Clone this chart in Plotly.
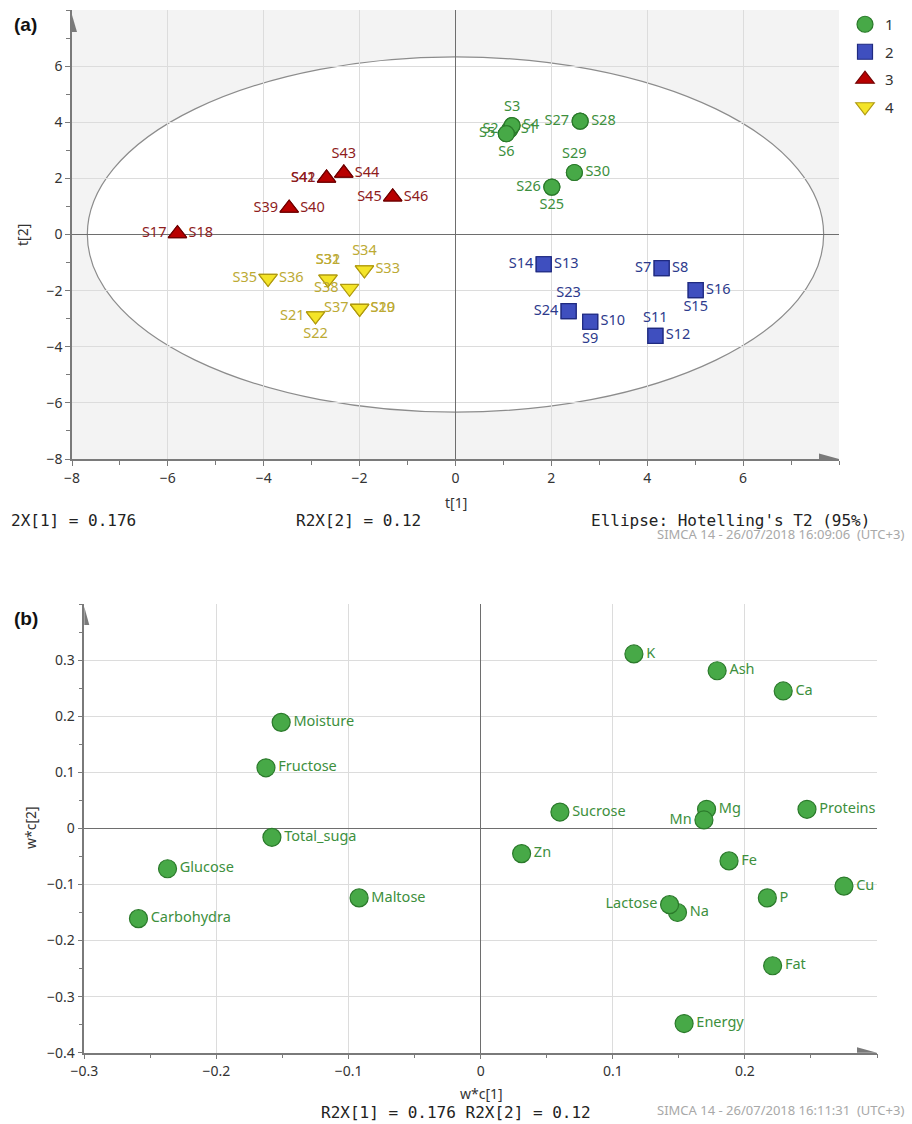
import plotly.graph_objects as go

W, H = 912, 1124

# ---------------- (a) score plot data ----------------
G1_NAMES = ["S1", "S2", "S3", "S4", "S5", "S6", "S25", "S26", "S27", "S28", "S29", "S30"]
G1_T1 = [1.13, 1.13, 1.18, 1.18, 1.06, 1.06, 2.01, 2.01, 2.60, 2.60, 2.48, 2.48]
G1_T2 = [3.74, 3.74, 3.88, 3.88, 3.59, 3.59, 1.69, 1.69, 4.04, 4.04, 2.21, 2.21]

G2_NAMES = ["S7", "S8", "S9", "S10", "S11", "S12", "S13", "S14", "S15", "S16", "S23", "S24"]
G2_T1 = [4.30, 4.30, 2.81, 2.81, 4.17, 4.17, 1.84, 1.84, 5.01, 5.01, 2.36, 2.36]
G2_T2 = [-1.20, -1.20, -3.11, -3.11, -3.61, -3.61, -1.06, -1.06, -1.98, -1.98, -2.73, -2.73]

G3_NAMES = ["S17", "S18", "S39", "S40", "S41", "S42", "S43", "S44", "S45", "S46"]
G3_T1 = [-5.80, -5.80, -3.47, -3.47, -2.69, -2.69, -2.33, -2.33, -1.31, -1.31]
G3_T2 = [0.03, 0.03, 0.94, 0.94, 2.01, 2.01, 2.19, 2.19, 1.34, 1.34]

G4_NAMES = ["S19", "S20", "S21", "S22", "S31", "S32", "S33", "S34", "S35", "S36", "S37", "S38"]
G4_T1 = [-2.00, -2.00, -2.92, -2.92, -2.66, -2.66, -1.90, -1.90, -3.91, -3.91, -2.00, -2.21]
G4_T2 = [-2.63, -2.63, -2.90, -2.90, -1.59, -1.59, -1.26, -1.26, -1.56, -1.56, -2.63, -1.92]

GROUP_LABELS = ["1", "2", "3", "4"]

# Hotelling's T2 (95%) ellipse semi-axes
ELLIPSE_T1 = 7.68
ELLIPSE_T2 = 6.33

# ---------------- (b) loading plot data ----------------
VAR_NAMES = ["Moisture", "Fructose", "Total_suga", "Glucose", "Carbohydra", "Maltose",
             "K", "Ash", "Ca", "Sucrose", "Mg", "Mn", "Proteins", "Zn", "Fe", "Cu",
             "P", "Na", "Lactose", "Fat", "Energy"]
WC1 = [-0.151, -0.1625, -0.158, -0.237, -0.259, -0.092,
       0.116, 0.179, 0.229, 0.060, 0.171, 0.169, 0.247, 0.031, 0.188, 0.275,
       0.217, 0.149, 0.143, 0.221, 0.154]
WC2 = [0.189, 0.108, -0.016, -0.072, -0.161, -0.124,
       0.311, 0.281, 0.245, 0.029, 0.034, 0.015, 0.034, -0.045, -0.058, -0.103,
       -0.124, -0.150, -0.136, -0.245, -0.348]

# ---------------- styles ----------------
G1_POS = ["middle right", "middle left", "top center", "middle right", "middle left", "bottom center",
          "bottom center", "middle left", "middle left", "middle right", "top center", "middle right"]
G2_POS = ["middle left", "middle right", "bottom center", "middle right", "top center", "middle right",
          "middle right", "middle left", "bottom center", "middle right", "top center", "middle left"]
G3_POS = ["middle left", "middle right", "middle left", "middle right", "middle left", "middle left",
          "top center", "middle right", "middle left", "middle right"]
G4_POS = ["middle right", "middle right", "middle left", "bottom center", "top center", "top center",
          "middle right", "top center", "middle left", "middle right", "middle left", "middle left"]
VAR_POS = ["middle right"] * len(VAR_NAMES)
VAR_POS[VAR_NAMES.index("Mn")] = "middle left"
VAR_POS[VAR_NAMES.index("Lactose")] = "middle left"

SANS = "Noto Sans"
MONO = "DejaVu Sans Mono"
AXC = "#7a7a7a"
GRID = "#dcdcdc"
ZERO = "#6e6e6e"

groups = [
    (G1_NAMES, G1_T1, G1_T2, G1_POS, "circle", 16, "#47a947", "#2b7a2b", "#3d8f3d"),
    (G2_NAMES, G2_T1, G2_T2, G2_POS, "square", 15, "#3f4fbf", "#1f2a80", "#2d3a8c"),
    (G3_NAMES, G3_T1, G3_T2, G3_POS, "triangle-up", 16, "#b80000", "#700000", "#8e1c1c"),
    (G4_NAMES, G4_T1, G4_T2, G4_POS, "triangle-down", 16, "#f4e428", "#b09a10", "#bcaa34"),
]

fig = go.Figure()
for i, (names, t1, t2, pos, sym, sz, fill, edge, tcol) in enumerate(groups):
    fig.add_trace(go.Scatter(
        x=t1, y=t2, mode="markers+text", text=names, textposition=pos,
        name=GROUP_LABELS[i], legendgroup="g" + GROUP_LABELS[i],
        marker=dict(symbol=sym, size=sz, color=fill, line=dict(color=edge, width=1.2)),
        textfont=dict(family=SANS, size=14.5, color=tcol),
        xaxis="x", yaxis="y", cliponaxis=False,
    ))

fig.add_trace(go.Scatter(
    x=WC1, y=WC2, mode="markers+text", text=VAR_NAMES, textposition=VAR_POS,
    marker=dict(symbol="circle", size=18, color="#47a947", line=dict(color="#2b7a2b", width=1.2)),
    textfont=dict(family=SANS, size=14.5, color="#3d8f3d"),
    showlegend=False, xaxis="x2", yaxis="y2", cliponaxis=False,
))


def axis(domain, rng, tickvals, minor_dtick, anchor):
    return dict(
        domain=domain, range=rng, anchor=anchor, tickmode="array", tickvals=tickvals,
        ticks="outside", ticklen=5, tickcolor=AXC, tickwidth=1,
        minor=dict(tickmode="linear", tick0=rng[0], dtick=minor_dtick, ticks="outside",
                   ticklen=4, tickcolor=AXC, showgrid=False),
        showgrid=True, gridcolor=GRID, gridwidth=1,
        zeroline=True, zerolinecolor=ZERO, zerolinewidth=1.4,
        showline=True, linecolor=AXC, linewidth=1.5,
        tickfont=dict(family=SANS, size=14, color="#333"),
        automargin=False, fixedrange=True,
    )


top_y = [1 - 459 / H, 1 - 10 / H]
top_x = [72 / W, 839 / W]
bot_y = [1 - 1052.7 / H, 1 - 604 / H]
bot_x = [84.3 / W, 877 / W]

fig.update_layout(
    width=W, height=H, margin=dict(l=0, r=0, t=0, b=0, pad=0, autoexpand=False),
    paper_bgcolor="white", plot_bgcolor="white",
    xaxis=axis(top_x, [-8, 8], [-8, -6, -4, -2, 0, 2, 4, 6], 1, "y"),
    yaxis=axis(top_y, [-8, 8], [-8, -6, -4, -2, 0, 2, 4, 6], 1, "x"),
    xaxis2=axis(bot_x, [-0.3, 0.3], [-0.3, -0.2, -0.1, 0, 0.1, 0.2], 0.05, "y2"),
    yaxis2=axis(bot_y, [-0.4, 0.4], [-0.4, -0.3, -0.2, -0.1, 0, 0.1, 0.2, 0.3], 0.05, "x2"),
    showlegend=True,
    legend=dict(x=845 / W, y=1 - 8 / H, xanchor="left", yanchor="top",
                font=dict(family=SANS, size=15, color="#333"),
                tracegroupgap=5, itemsizing="trace", bgcolor="rgba(0,0,0,0)"),
)

shapes = [
    # shaded area outside ellipse (top plot)
    dict(type="rect", xref="x domain", yref="y domain", x0=0, x1=1, y0=0, y1=1,
         fillcolor="#f3f3f3", line=dict(width=0), layer="below"),
    dict(type="circle", xref="x", yref="y", x0=-ELLIPSE_T1, x1=ELLIPSE_T1,
         y0=-ELLIPSE_T2, y1=ELLIPSE_T2, fillcolor="white",
         line=dict(color="#8c8c8c", width=1.2), layer="below"),
    # axis arrows
    dict(type="path", xref="x", yref="y", xsizemode="pixel", ysizemode="pixel",
         xanchor=-8, yanchor=8, path="M -5,-22 L 5,-22 L 0,-5 Z",
         fillcolor=AXC, line=dict(width=0)),
    dict(type="path", xref="x", yref="y", xsizemode="pixel", ysizemode="pixel",
         xanchor=8, yanchor=-8, path="M -20,-5.5 L -20,5.5 L 0,0 Z",
         fillcolor=AXC, line=dict(width=0)),
    dict(type="path", xref="x2", yref="y2", xsizemode="pixel", ysizemode="pixel",
         xanchor=-0.3, yanchor=0.4, path="M -5,-21 L 5,-21 L 0,-3 Z",
         fillcolor=AXC, line=dict(width=0)),
    dict(type="path", xref="x2", yref="y2", xsizemode="pixel", ysizemode="pixel",
         xanchor=0.3, yanchor=-0.4, path="M -20,-5.5 L -20,5.5 L 0,0 Z",
         fillcolor=AXC, line=dict(width=0)),
]
fig.update_layout(shapes=shapes)


def px_ann(text, x, y, font, xanchor="left", angle=0):
    return dict(text=text, x=x / W, y=1 - y / H, xref="paper", yref="paper",
                xanchor=xanchor, yanchor="middle", showarrow=False, font=font,
                textangle=angle)


mono = dict(family=MONO, size=16, color="#222")
simca = dict(family=SANS, size=13, color="#a8a8a8")
bold = dict(family="Liberation Sans", size=19, color="#111")
title = dict(family=SANS, size=14, color="#333")
fig.update_layout(annotations=[
    px_ann("<b>(a)</b>", 12, 24, bold),
    px_ann("t[2]", 23, 235, title, "center", -90),
    px_ann("t[1]", 456, 502, title, "center"),
    px_ann("2X[1] = 0.176", 9, 520, mono),
    px_ann("R2X[2] = 0.12", 294, 520, mono),
    px_ann("Ellipse: Hotelling's T2 (95%)", 589, 520, mono),
    px_ann("SIMCA 14 - 26/07/2018 16:09:06  (UTC+3)", 655, 534, simca),
    px_ann("<b>(b)</b>", 12, 618, bold),
    px_ann("w*c[2]", 30, 828, title, "center", -90),
    px_ann("w*c[1]", 481, 1093, title, "center"),
    px_ann("R2X[1] = 0.176 R2X[2] = 0.12", 319, 1112, mono),
    px_ann("SIMCA 14 - 26/07/2018 16:11:31  (UTC+3)", 655, 1110, simca),
])

fig.write_html(
    "out.html",
    config={"displayModeBar": False},
    post_script="document.body.style.margin='0';document.body.style.padding='0';"
                "document.body.style.overflow='hidden';",
)
